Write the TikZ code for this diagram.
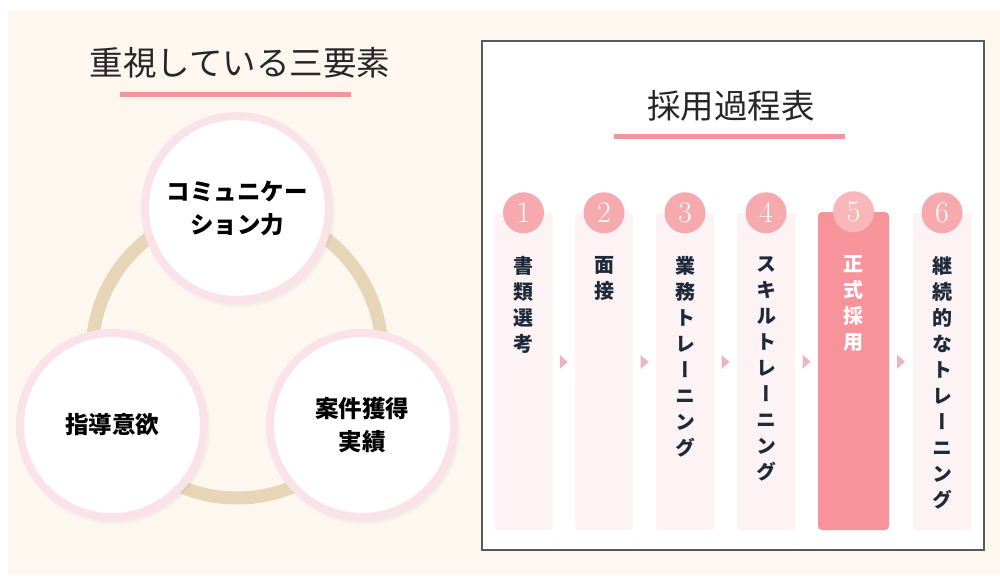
\documentclass[tikz,border=0pt]{standalone}
\usepackage{fontspec}
\newfontfamily\jpfont{Noto Sans CJK JP}
\newfontfamily\jpvert{Noto Sans CJK JP}[RawFeature=+vert]
\usetikzlibrary{shapes.geometric,shadows,calc,positioning}
\definecolor{bgbeige}{HTML}{FDF7F0}
\definecolor{barpink}{HTML}{F0969C}
\definecolor{ringtan}{HTML}{E7D5B8}
\definecolor{elemedge}{HTML}{FAE3E8}
\definecolor{stagepink}{HTML}{FDF3F4}
\definecolor{finalpink}{HTML}{F7939A}
\definecolor{numpink}{HTML}{F7AAAD}
\definecolor{tripink}{HTML}{E9B7BB}
\definecolor{navy}{HTML}{1E2A3A}

\begin{document}
\begin{tikzpicture}[
  x=1pt, y=-1pt,
  heading/.style={inner sep=0, text=black!85, font=\jpfont\fontsize{33.5}{38}\selectfont},
  bar/.style={rectangle, fill=barpink, minimum width=231pt, minimum height=5pt, inner sep=0},
  ring/.style={draw=ringtan, line width=13pt},
  elem/.style={circle, fill=white, draw=elemedge, line width=8pt, minimum size=184pt,
               inner sep=0, align=center, text=black,
               font=\jpfont\bfseries\fontsize{23.5}{33}\selectfont,
               circular drop shadow={shadow xshift=2pt, shadow yshift=-3pt, shadow scale=1.05, opacity=.3}},
  panel/.style={rectangle, fill=white, draw=black!65, line width=1.4pt,
                minimum width=502pt, minimum height=509pt},
  stage/.style={rectangle, rounded corners=3pt, fill=stagepink, minimum width=58pt,
                minimum height=317pt, inner sep=0},
  final/.style={stage, fill=finalpink, minimum width=71pt, minimum height=318pt, rounded corners=4pt},
  num/.style={circle, fill=numpink, text=white, minimum size=41pt, inner sep=0,
              font=\fontsize{30}{30}\selectfont},
  steptxt/.style={anchor=north, inner sep=0, align=center, text=navy,
                  font=\jpvert\bfseries\fontsize{20}{26}\selectfont},
  tri/.style={fill=tripink},
]

\useasboundingbox (0,0) rectangle (1000,579);
\fill[bgbeige] (8,10) rectangle (1000,575);

% three elements
\node[heading] (title1) at (240,63) {重視している三要素};
\node[bar]     (bar1)   at (235.5,94) {};

\coordinate (hub) at (237,353);
\draw[ring] (hub) circle (145);

\node[elem] (comm)  at (237,208) {コミュニケー\\ション力};
\node[elem] (guide) at (112,425) {指導意欲};
\node[elem] (deal)  at (362,425) {案件獲得\\実績};

% hiring process
\node[panel] (panel) at (733,295.5) {};
\node[heading] (title2) at (731,106) {採用過程表};
\node[bar]     (bar2)   at (729,136) {};

\node[stage] (col1) at (523.5,371.5) {};
\node[stage] (col2) at (604,371.5)   {};
\node[stage] (col3) at (685,371.5)   {};
\node[stage] (col4) at (766,371.5)   {};
\node[final] (col5) at (853.5,371)   {};
\node[stage] (col6) at (942,371.5)   {};

\node[num] (num1) at (col1.north) {1};
\node[num] (num2) at (col2.north) {2};
\node[num] (num3) at (col3.north) {3};
\node[num] (num4) at (col4.north) {4};
\node[num, fill=numpink!85!white] (num5) at (col5.north) {5};
\node[num] (num6) at (col6.north) {6};

\node[steptxt, below=23pt of num1] (txt1) {書\\類\\選\\考};
\node[steptxt, below=23pt of num2] (txt2) {面\\接};
\node[steptxt, below=23pt of num3] (txt3) {業\\務\\ト\\レ\\ー\\ニ\\ン\\グ};
\node[steptxt, below=23pt of num4] (txt4) {ス\\キ\\ル\\ト\\レ\\ー\\ニ\\ン\\グ};
\node[steptxt, below=23pt of num5, text=white] (txt5) {正\\式\\採\\用};
\node[steptxt, below=23pt of num6] (txt6) {継\\続\\的\\な\\ト\\レ\\ー\\ニ\\ン\\グ};

\foreach \a/\b in {1/2,2/3,3/4,4/5,5/6}{
  \coordinate (gap\a) at ($(col\a.east)!.5!(col\b.west)$);
  \fill[tri] ($(gap\a)+(-4,-16.5)$) -- ++(8,7) -- ++(-8,7) -- cycle;
}

\end{tikzpicture}
\end{document}
